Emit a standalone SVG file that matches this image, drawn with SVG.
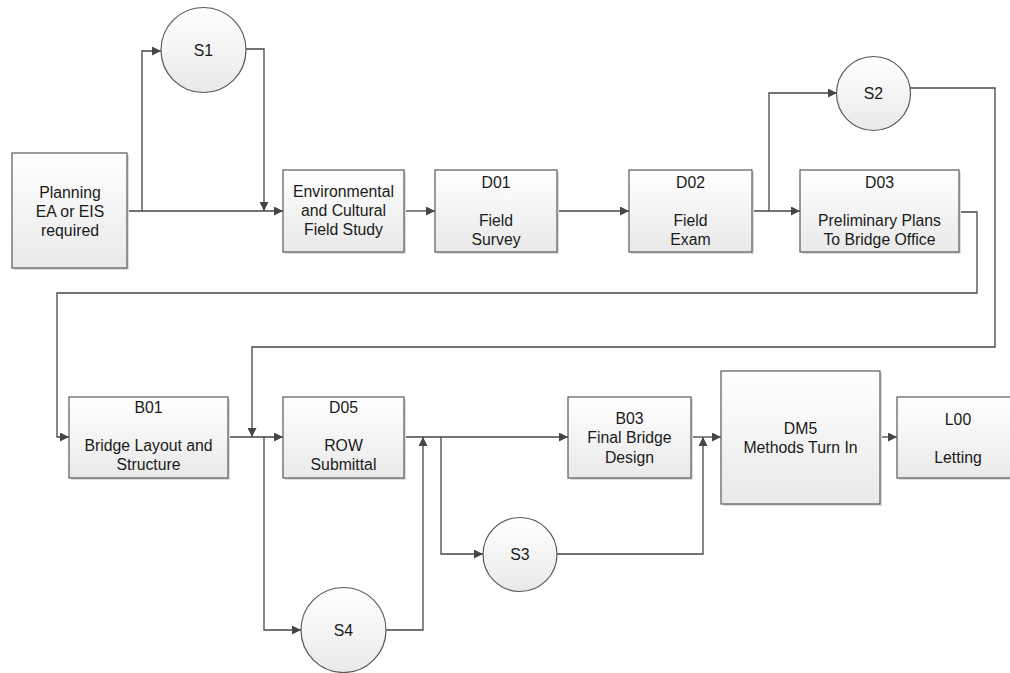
<svg xmlns="http://www.w3.org/2000/svg" width="1010" height="673" viewBox="0 0 1010 673">
<style>
.box{fill:url(#g);stroke:#595959;stroke-width:1.2}
.sh{fill:#dcdcdc}
.cir{fill:url(#g);stroke:#595959;stroke-width:1.2}
.t{font-family:"Liberation Sans",Arial,sans-serif;font-size:15.8px;fill:#1a1a1a;text-anchor:middle}
.c{fill:none;stroke:#454545;stroke-width:1.3}
.a{marker-end:url(#ah)}
</style>
<defs>
<linearGradient id="g" x1="0" y1="0" x2="0" y2="1">
<stop offset="0" stop-color="#ffffff"/>
<stop offset="1" stop-color="#e9e9e9"/>
</linearGradient>
<marker id="ah" viewBox="0 0 10 10" refX="10" refY="5" markerWidth="9" markerHeight="9" markerUnits="userSpaceOnUse" orient="auto">
<path d="M0,0 L10,5 L0,10 z" fill="#454545"/>
</marker>
</defs>
<rect width="1010" height="673" fill="#ffffff"/>

<g id="connectors">
<path class="c a" d="M127,211 H283"/>
<path class="c a" d="M142,211 V51 H161"/>
<path class="c a" d="M246,49 H264 V211"/>
<path class="c a" d="M404,211 H435"/>
<path class="c a" d="M557,211 H629"/>
<path class="c a" d="M752,211 H800"/>
<path class="c a" d="M769,211 V93 H837"/>
<path class="c a" d="M910,88 H995 V347 H252 V437"/>
<path class="c a" d="M959,212 H977 V293 H57 V437 H69"/>
<path class="c a" d="M228,437 H283"/>
<path class="c a" d="M264,437 V630 H301"/>
<path class="c a" d="M386,630 H423 V437"/>
<path class="c a" d="M404,437 H568"/>
<path class="c a" d="M441,437 V554 H483"/>
<path class="c a" d="M557,554 H703 V437"/>
<path class="c a" d="M691,437 H721"/>
<path class="c a" d="M880,437 H897"/>
</g>

<g id="planning">
<rect class="sh" x="14" y="155" width="115" height="115"/>
<rect class="box" x="12" y="153" width="115" height="115"/>
<text class="t" x="70" y="198">Planning</text>
<text class="t" x="70" y="217">EA or EIS</text>
<text class="t" x="70" y="236">required</text>
</g>

<g id="s1">
<circle class="cir" cx="203.5" cy="50" r="42.5"/>
<text class="t" x="203.5" y="55.5">S1</text>
</g>

<g id="env">
<rect class="sh" x="285" y="172" width="121" height="82"/>
<rect class="box" x="283" y="170" width="121" height="82"/>
<text class="t" x="343.5" y="197">Environmental</text>
<text class="t" x="343.5" y="216">and Cultural</text>
<text class="t" x="343.5" y="235">Field Study</text>
</g>

<g id="d01">
<rect class="sh" x="437" y="172" width="122" height="82"/>
<rect class="box" x="435" y="170" width="122" height="82"/>
<text class="t" x="496" y="188">D01</text>
<text class="t" x="496" y="226">Field</text>
<text class="t" x="496" y="245">Survey</text>
</g>

<g id="d02">
<rect class="sh" x="631" y="172" width="123" height="82"/>
<rect class="box" x="629" y="170" width="123" height="82"/>
<text class="t" x="690.5" y="188">D02</text>
<text class="t" x="690.5" y="226">Field</text>
<text class="t" x="690.5" y="245">Exam</text>
</g>

<g id="s2">
<circle class="cir" cx="873.5" cy="93.5" r="37"/>
<text class="t" x="873.5" y="99">S2</text>
</g>

<g id="d03">
<rect class="sh" x="802" y="172" width="159" height="82"/>
<rect class="box" x="800" y="170" width="159" height="82"/>
<text class="t" x="879.5" y="188">D03</text>
<text class="t" x="879.5" y="226">Preliminary Plans</text>
<text class="t" x="879.5" y="245">To Bridge Office</text>
</g>

<g id="b01">
<rect class="sh" x="71" y="399" width="159" height="81"/>
<rect class="box" x="69" y="397" width="159" height="81"/>
<text class="t" x="148.5" y="413">B01</text>
<text class="t" x="148.5" y="451">Bridge Layout and</text>
<text class="t" x="148.5" y="470">Structure</text>
</g>

<g id="d05">
<rect class="sh" x="285" y="399" width="121" height="81"/>
<rect class="box" x="283" y="397" width="121" height="81"/>
<text class="t" x="343.5" y="413">D05</text>
<text class="t" x="343.5" y="451">ROW</text>
<text class="t" x="343.5" y="470">Submittal</text>
</g>

<g id="s4">
<circle class="cir" cx="343.5" cy="630" r="42.5"/>
<text class="t" x="343.5" y="635.5">S4</text>
</g>

<g id="b03">
<rect class="sh" x="570" y="399" width="123" height="81"/>
<rect class="box" x="568" y="397" width="123" height="81"/>
<text class="t" x="629.5" y="423.5">B03</text>
<text class="t" x="629.5" y="443">Final Bridge</text>
<text class="t" x="629.5" y="462.5">Design</text>
</g>

<g id="s3">
<circle class="cir" cx="520" cy="554.5" r="37"/>
<text class="t" x="520" y="560">S3</text>
</g>

<g id="dm5">
<rect class="sh" x="723" y="373" width="159" height="133"/>
<rect class="box" x="721" y="371" width="159" height="133"/>
<text class="t" x="800.5" y="434">DM5</text>
<text class="t" x="800.5" y="453">Methods Turn In</text>
</g>

<g id="l00">
<rect class="sh" x="899" y="399" width="122" height="81"/>
<rect class="box" x="897" y="397" width="122" height="81"/>
<text class="t" x="958" y="425">L00</text>
<text class="t" x="958" y="463">Letting</text>
</g>
</svg>
